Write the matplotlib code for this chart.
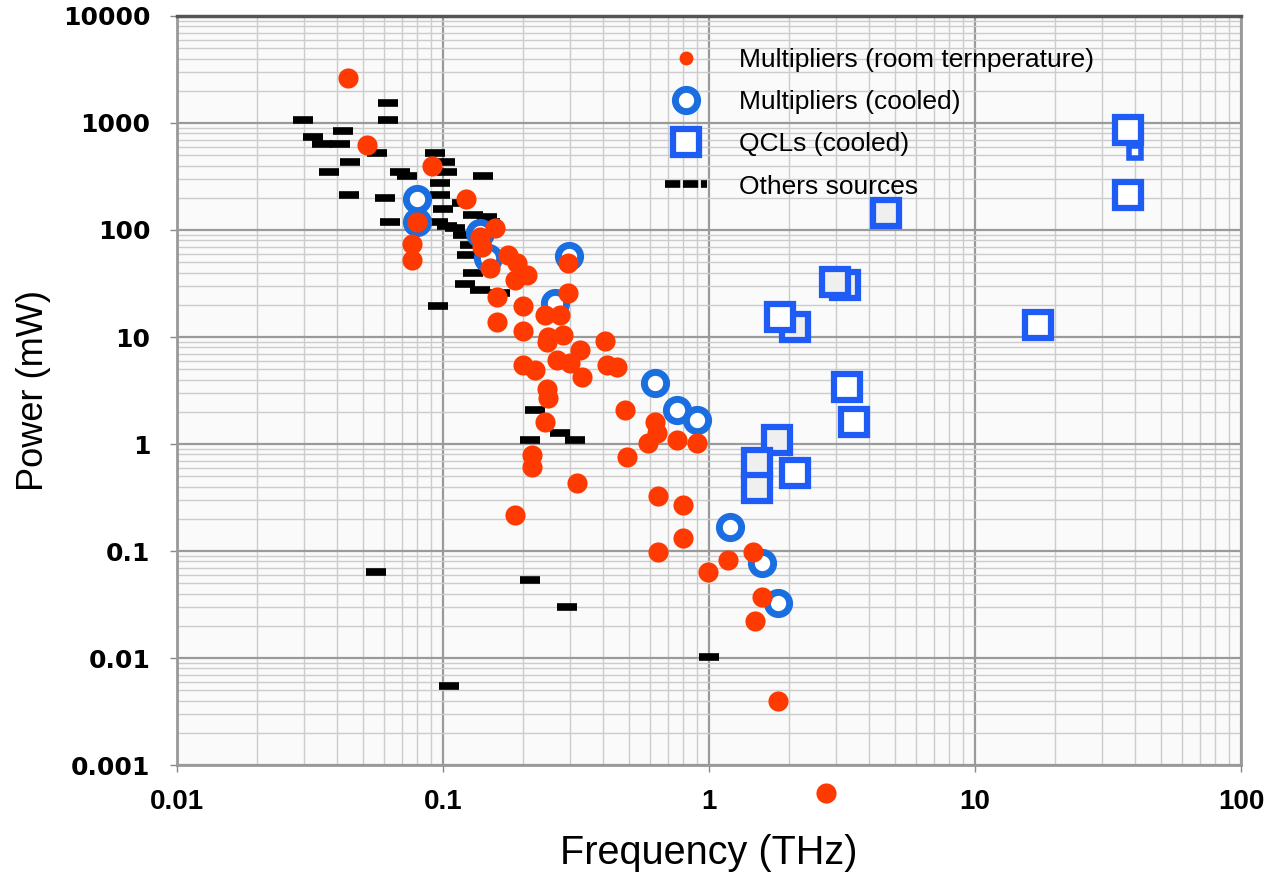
import numpy as np
import matplotlib.pyplot as plt
from matplotlib.lines import Line2D

# Output power of THz sources vs frequency
# multipliers at room temperature (THz, mW)
room_f = [0.044, 0.052, 0.091, 0.122, 0.080, 0.0765, 0.0765, 0.138, 0.157, 0.140,
          0.150, 0.176, 0.190, 0.207, 0.187, 0.160, 0.160, 0.200, 0.200, 0.242,
          0.275, 0.295, 0.295, 0.248, 0.283, 0.246, 0.406, 0.327, 0.200, 0.222,
          0.268, 0.300, 0.333, 0.414, 0.451, 0.246, 0.248, 0.483, 0.242, 0.627,
          0.638, 0.590, 0.758, 0.901, 0.216, 0.216, 0.492, 0.319, 0.643, 0.798,
          0.187, 0.798, 0.643, 1.46, 1.18, 0.991, 1.58, 1.49, 1.82, 2.75]
room_p = [2640, 622, 400, 195, 120, 74, 53, 86, 104, 69,
          44, 59, 49, 38, 34, 23.4, 13.7, 19.3, 11.3, 16,
          16, 25.8, 49, 10, 10.4, 9.0, 9.2, 7.6, 5.5, 4.9,
          6.1, 5.7, 4.2, 5.5, 5.2, 3.3, 2.7, 2.08, 1.59, 1.59,
          1.28, 1.03, 1.08, 1.03, 0.79, 0.61, 0.76, 0.43, 0.33, 0.27,
          0.215, 0.132, 0.098, 0.098, 0.082, 0.064, 0.037, 0.022, 0.0040, 0.00055]

# cooled multipliers
cooled_f = [0.080, 0.080, 0.138, 0.148, 0.298, 0.263, 0.627, 0.758, 0.901, 1.20, 1.58, 1.82]
cooled_p = [195, 120, 94, 55, 57, 21, 3.7, 2.08, 1.67, 0.168, 0.077, 0.033]

# cooled QCLs
qcl_open_f = [37.6, 37.6, 1.85, 17.3, 3.30, 3.5, 2.10]
qcl_open_p = [860, 212, 15.4, 12.9, 3.4, 1.59, 0.54]
qcl_shaded_f = [4.63, 3.25, 2.98, 2.10, 1.80, 1.51, 1.51]
qcl_shaded_p = [144, 30.6, 32.7, 12.3, 1.08, 0.66, 0.39]
qcl_small_f = [40.0]
qcl_small_p = [530]

# other sources
other_f = [0.0621, 0.0298, 0.0621, 0.0421, 0.0324, 0.0351, 0.0410, 0.0565, 0.0447,
           0.0373, 0.0689, 0.0732, 0.0933, 0.102, 0.1035, 0.141, 0.0975, 0.0443,
           0.0605, 0.0975, 0.1, 0.0632, 0.0958, 0.1035, 0.130, 0.146, 0.119, 0.123,
           0.130, 0.121, 0.164, 0.0958, 0.222, 0.275, 0.212, 0.313, 0.056, 0.212,
           0.292, 1.0, 0.1054, 0.111, 0.126, 0.138, 0.150, 0.118]
other_p = [1537, 1067, 1067, 842, 740, 636, 636, 524, 436,
           345, 345, 323, 524, 436, 345, 323, 275, 212,
           199, 212, 157, 120, 120, 110, 138, 132, 89.8, 59,
           39.6, 31.6, 25.8, 19.3, 2.08, 1.28, 1.08, 1.08, 0.064, 0.054,
           0.030, 0.0102, 0.0055, 104, 72, 27.5, 120, 180]

red = '#ff3a00'
ring_blue = '#1a6ee0'
sq_blue = '#1f5cf5'

fig = plt.figure(figsize=(12.73, 8.74), dpi=100)
ax = fig.add_axes([0.139, 0.1247, 0.836, 0.857])
ax.set_facecolor('#fafafa')
ax.set_xscale('log')
ax.set_yscale('log')
ax.set_xlim(0.01, 100)
ax.set_ylim(0.001, 10000)

ax.grid(which='major', color='#9a9a9a', lw=1.6, zorder=0)
ax.grid(which='minor', color='#cccccc', lw=1.0, zorder=0)
ax.set_axisbelow(True)

ax.plot(other_f, other_p, ls='none', marker='_', ms=15, mew=5.5, color='black', zorder=2)
ax.plot(cooled_f, cooled_p, ls='none', marker='o', ms=16, mew=5, mfc='white',
        mec=ring_blue, zorder=3)
ax.plot(room_f, room_p, ls='none', marker='o', ms=14.5, mew=0, color=red, zorder=4,
        clip_on=False)
ax.plot(qcl_shaded_f, qcl_shaded_p, ls='none', marker='s', ms=19, mew=4.5,
        mfc='#efefef', mec=sq_blue, zorder=5)
ax.plot(qcl_open_f, qcl_open_p, ls='none', marker='s', ms=19, mew=4.5,
        mfc='white', mec=sq_blue, zorder=5)
ax.plot(qcl_small_f, qcl_small_p, ls='none', marker='s', ms=9, mew=4,
        mfc='white', mec=sq_blue, zorder=5)

ax.set_xticks([0.01, 0.1, 1, 10, 100], ['0.01', '0.1', '1', '10', '100'])
ax.set_yticks([0.001, 0.01, 0.1, 1, 10, 100, 1000, 10000],
              ['0.001', '0.01', '0.1', '1', '10', '100', '1000', '10000'])
ax.tick_params(which='minor', length=0)
ax.tick_params(which='major', length=5, color='#888888', width=1)
ax.tick_params(axis='x', pad=12)
ax.tick_params(axis='y', pad=14)
for t in ax.get_xticklabels():
    t.set_fontfamily('Liberation Sans')
    t.set_fontweight('bold')
    t.set_fontsize(20)
for t in ax.get_yticklabels():
    t.set_fontfamily('DejaVu Sans')
    t.set_fontweight('bold')
    t.set_fontsize(18)

for side in ['left', 'bottom', 'right']:
    ax.spines[side].set_color('#999999')
    ax.spines[side].set_linewidth(2)
ax.spines['top'].set_color('#555555')
ax.spines['top'].set_linewidth(2.5)

ax.set_xlabel('Frequency (THz)', fontsize=28.5, family='Liberation Sans', labelpad=14)
ax.set_ylabel('Power (mW)', fontsize=26, family='Liberation Sans', labelpad=9)

handles = [
    Line2D([], [], ls='none', marker='o', ms=10, mew=0, color=red),
    Line2D([], [], ls='none', marker='o', ms=16, mew=5, mfc='white', mec=ring_blue),
    Line2D([], [], ls='none', marker='s', ms=19, mew=4.5, mfc='white', mec=sq_blue),
    Line2D([], [], color='black', lw=5.5, ls=(0, (2.0, 0.35))),
]
labels = ['Multipliers (room ternperature)', 'Multipliers (cooled)',
          'QCLs (cooled)', 'Others sources']
ax.legend(handles, labels, loc='upper left', bbox_to_anchor=(0.436, 0.989),
          frameon=False, prop={'family': 'Liberation Sans', 'size': 19},
          handlelength=1.6, handletextpad=1.2, labelspacing=0.69)

fig.savefig('out.png', dpi=100)
